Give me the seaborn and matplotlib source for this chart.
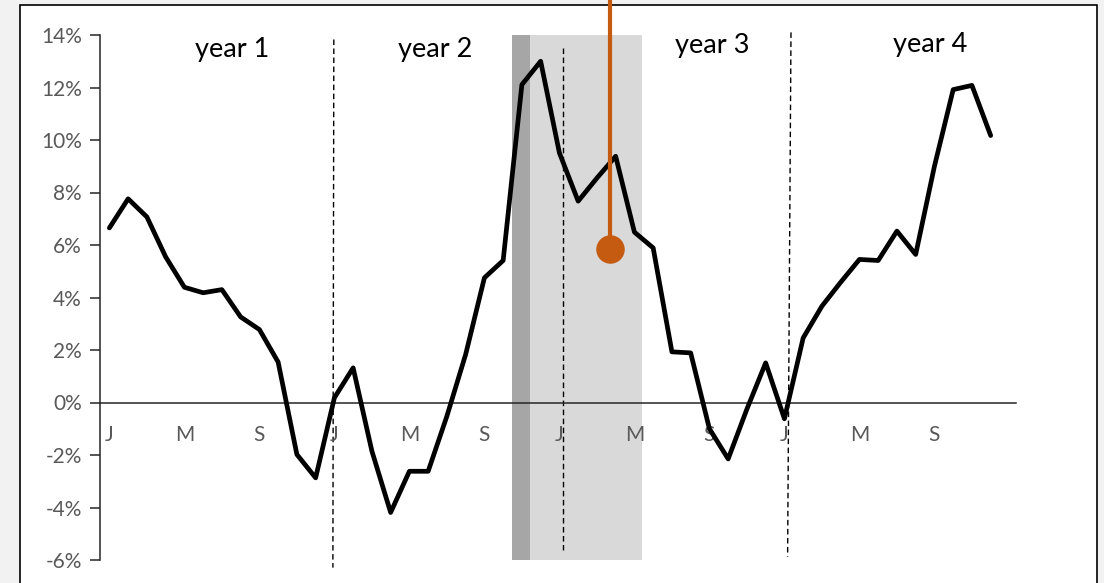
import numpy as np
import pandas as pd
import matplotlib
matplotlib.use("Agg")
import matplotlib.pyplot as plt
from matplotlib.patches import Rectangle
from matplotlib.ticker import FixedLocator, FuncFormatter
import seaborn as sns

# Monthly growth rate (%) over four years
growth = [6.65, 7.76, 7.07, 5.55, 4.39, 4.18, 4.30, 3.26, 2.78, 1.54, -1.98, -2.87,
          0.18, 1.32, -1.85, -4.19, -2.62, -2.62, -0.52, 1.83, 4.75, 5.41, 12.11, 13.00,
          9.51, 7.67, 8.55, 9.38, 6.49, 5.89, 1.93, 1.89, -1.00, -2.15, -0.25, 1.51,
          -0.62, 2.46, 3.67, 4.58, 5.45, 5.41, 6.53, 5.64, 9.00, 11.92, 12.08, 10.17]
month_labels = ["J", "M", "S"]
year_labels = ["year 1", "year 2", "year 3", "year 4"]
y_ticks = [-6, -4, -2, 0, 2, 4, 6, 8, 10, 12, 14]

# Highlighted period and the marked reading inside it
highlight_dark = (21.49, 22.45)
highlight_light = (22.45, 28.43)
marker_month = 26.72
marker_value = 5.83

df = pd.DataFrame({"month": np.arange(len(growth)), "growth": growth})

sns.set_theme(style="white")
plt.rcParams["font.family"] = ["Lato", "DejaVu Sans"]

W, H = 1104, 583
fig = plt.figure(figsize=(W / 100, H / 100), dpi=100)
fig.patch.set_facecolor("#f2f2f2")

# White chart panel with a thin black border
fig.patches.append(Rectangle((20 / W, -0.01), (1097 - 20) / W, (H - 5) / H + 0.01,
                             transform=fig.transFigure, facecolor="white",
                             edgecolor="black", linewidth=1.2, zorder=-5))

ax = fig.add_axes([100 / W, (H - 560) / H, 916 / W, 525 / H])
ax.set_facecolor("none")
ax.set_axisbelow(False)
ax.set_xlim(-0.5, 48.35)
ax.set_ylim(-6, 14)

# Shaded period
ax.axvspan(*highlight_dark, color="#a6a6a6", lw=0, zorder=1)
ax.axvspan(*highlight_light, color="#d9d9d9", lw=0, zorder=1)

# Year separators
sep_style = dict(color="black", lw=1.0, linestyle=(0, (4, 2.5)), clip_on=False, zorder=2)
ax.plot([11.97, 11.92], [13.83, -6.29], **sep_style)
ax.plot([24.21, 24.21], [13.5, -5.6], **sep_style)
ax.plot([36.35, 36.17], [14.1, -5.87], **sep_style)

sns.lineplot(data=df, x="month", y="growth", color="black", lw=3.4, ax=ax, zorder=4)

# Marker pin reaching up past the top of the chart
ax.plot([marker_month, marker_month], [marker_value, 15.6], color="#c55a11", lw=3.0,
        clip_on=False, zorder=5, solid_capstyle="butt")
ax.plot([marker_month], [marker_value], "o", color="#c55a11", ms=19.5, zorder=6,
        clip_on=False)

# Axes styling: x axis runs along zero, y axis on the left
for side in ["top", "right"]:
    ax.spines[side].set_visible(False)
ax.spines["left"].set_color("#262626")
ax.spines["left"].set_linewidth(1.1)
ax.spines["bottom"].set_position(("data", 0))
ax.spines["bottom"].set_color("#262626")
ax.spines["bottom"].set_linewidth(1.1)
ax.spines["bottom"].set_zorder(3)

ax.yaxis.set_major_locator(FixedLocator(y_ticks))
ax.yaxis.set_major_formatter(FuncFormatter(lambda v, _: f"{v:.0f}%"))
ax.tick_params(axis="y", direction="out", length=7, width=1.1, color="#262626",
               labelsize=15, labelcolor="#595959", pad=6, left=True)

x_ticks = np.arange(0, len(growth), 4)
ax.set_xticks(x_ticks)
ax.set_xticklabels([month_labels[k % 3] for k in range(len(x_ticks))])
ax.tick_params(axis="x", length=0, labelsize=15, labelcolor="#595959", pad=16)
ax.set_xlabel("")
ax.set_ylabel("")

# Year captions
for lbl, (xc, yb) in zip(year_labels, [(6.56, 13.18), (17.39, 13.18),
                                       (32.16, 13.33), (43.79, 13.37)]):
    ax.text(xc, yb, lbl, ha="center", va="baseline", fontsize=19.5, color="black",
            zorder=6)

fig.savefig("out.png", dpi=100, facecolor=fig.get_facecolor())
